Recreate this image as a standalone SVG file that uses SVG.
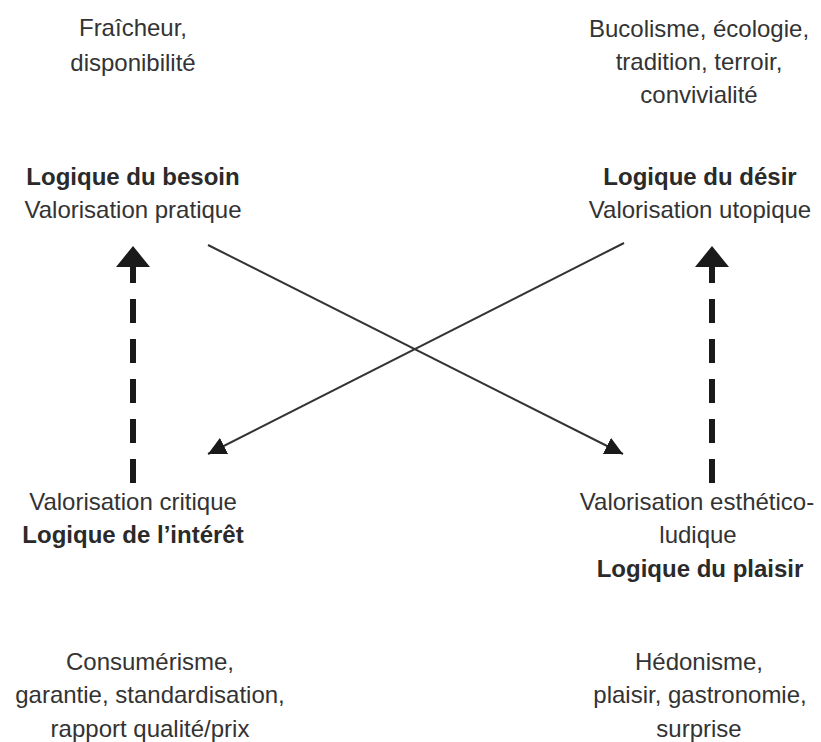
<svg xmlns="http://www.w3.org/2000/svg" width="821" height="742" viewBox="0 0 821 742">
  <style>
    text { font-family: "Liberation Sans", Arial, sans-serif; font-size: 24px; fill: #333; text-anchor: middle; }
    .b { font-weight: bold; fill: #2a2a2a; }
    .diag { stroke: #333; stroke-width: 2; fill: none; }
    .dash { stroke: #1a1a1a; stroke-width: 6; fill: none; stroke-dasharray: 24 16; }
  </style>
  <defs>
    <marker id="tri" markerUnits="userSpaceOnUse" markerWidth="18" markerHeight="18" refX="18" refY="9" orient="auto" viewBox="0 0 18 18">
      <path d="M0,0 L18,9 L0,18 z" fill="#1a1a1a"/>
    </marker>
    <marker id="big" markerUnits="userSpaceOnUse" markerWidth="21" markerHeight="34" refX="21" refY="17" orient="auto" viewBox="0 0 21 34">
      <path d="M0,0 L21,17 L0,34 z" fill="#1a1a1a"/>
    </marker>
  </defs>
  <rect width="821" height="742" fill="#fff"/>

  <g id="connectors">
    <line class="dash" x1="133" y1="483" x2="133" y2="246" marker-end="url(#big)"/>
    <line class="dash" x1="712" y1="483" x2="712" y2="246" marker-end="url(#big)"/>
    <line class="diag" x1="208" y1="245" x2="623" y2="454" marker-end="url(#tri)"/>
    <line class="diag" x1="624" y1="243" x2="208" y2="454" marker-end="url(#tri)"/>
  </g>

  <g id="note-top-left">
    <text x="133" y="36">Fraîcheur,</text>
    <text x="133" y="71">disponibilité</text>
  </g>
  <g id="note-top-right">
    <text x="699" y="37">Bucolisme, écologie,</text>
    <text x="699" y="70">tradition, terroir,</text>
    <text x="699" y="103">convivialité</text>
  </g>
  <g id="node-besoin">
    <text class="b" x="133" y="185">Logique du besoin</text>
    <text x="133" y="218">Valorisation pratique</text>
  </g>
  <g id="node-desir">
    <text class="b" x="700" y="185">Logique du désir</text>
    <text x="700" y="218">Valorisation utopique</text>
  </g>
  <g id="node-interet">
    <text x="133" y="510">Valorisation critique</text>
    <text class="b" x="133" y="543">Logique de l’intérêt</text>
  </g>
  <g id="node-plaisir">
    <text x="697" y="510">Valorisation esthético-</text>
    <text x="698" y="543">ludique</text>
    <text class="b" x="700" y="577">Logique du plaisir</text>
  </g>
  <g id="note-bottom-left">
    <text x="150" y="670">Consumérisme,</text>
    <text x="150" y="703">garantie, standardisation,</text>
    <text x="150" y="737">rapport qualité/prix</text>
  </g>
  <g id="note-bottom-right">
    <text x="699" y="670">Hédonisme,</text>
    <text x="700" y="703">plaisir, gastronomie,</text>
    <text x="699" y="737">surprise</text>
  </g>
</svg>
